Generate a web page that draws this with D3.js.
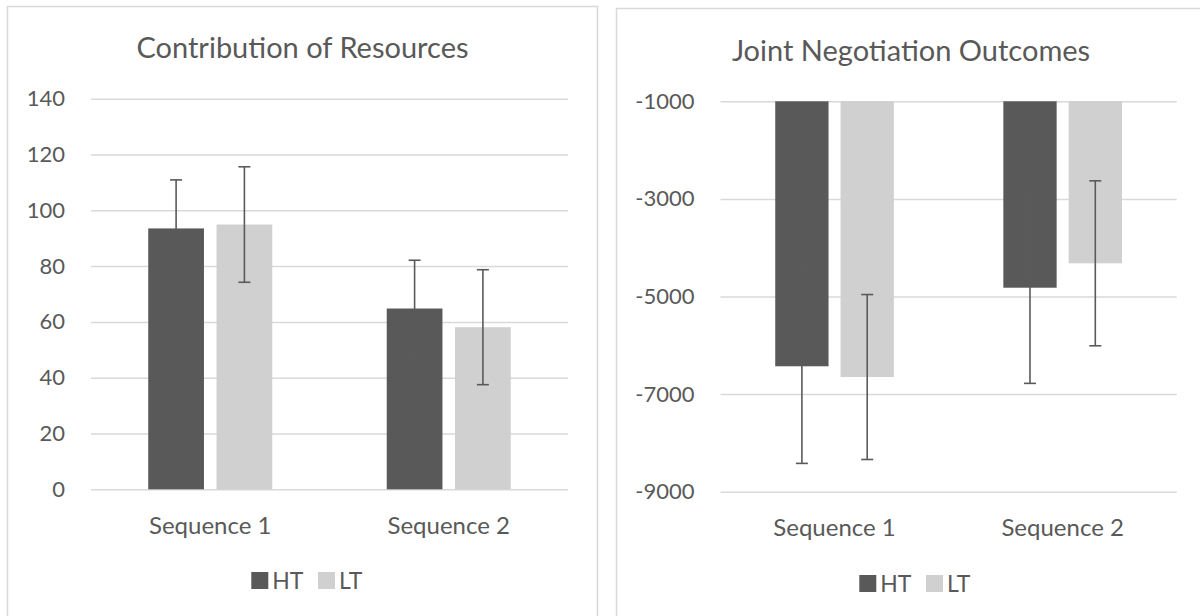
<!DOCTYPE html>
<html>
<head>
<meta charset="utf-8">
<script src="https://cdn.jsdelivr.net/npm/d3@7"></script>
<style>
  html, body { margin: 0; padding: 0; background: #ffffff; }
  svg { display: block; }
  text { font-family: Lato, "Open Sans", sans-serif; fill: #595959; }
</style>
</head>
<body>
<svg id="chart" width="1200" height="616"></svg>
<script>
// Shared categories and series
const categories = ["Sequence 1", "Sequence 2"];
const series = ["HT", "LT"];
const seriesColors = ["#595959", "#d0d0d0"];

// Contribution of Resources: means and error half-widths
const resourcesHT = [93.5, 64.8];
const resourcesLT = [94.9, 58.1];
const resourcesErrHT = [17.4, 17.3];
const resourcesErrLT = [20.7, 20.6];
const resourcesTicks = [0, 20, 40, 60, 80, 100, 120, 140];

// Joint Negotiation Outcomes: means and error half-widths
const outcomesHT = [-6430, -4820];
const outcomesLT = [-6650, -4320];
const outcomesErrHT = [1990, 1960];
const outcomesErrLT = [1690, 1690];
const outcomesTicks = [-1000, -3000, -5000, -7000, -9000];

const svg = d3.select("#chart");

function drawPanel(opts) {
  const g = svg.append("g");

  // panel frame
  g.append("rect")
    .attr("x", opts.frame.x).attr("y", opts.frame.y)
    .attr("width", opts.frame.w).attr("height", opts.frame.h)
    .attr("fill", "#ffffff")
    .attr("stroke", "#d9d9d9").attr("stroke-width", 1.5);

  const x = d3.scaleBand().domain(categories)
    .range([opts.plot.left, opts.plot.right]);
  const xs = d3.scaleBand().domain(series)
    .range([0, x.bandwidth()])
    .paddingInner(0.184).paddingOuter(0.838);
  const y = d3.scaleLinear().domain(opts.domain)
    .range([opts.plot.bottom, opts.plot.top]);

  // gridlines + tick labels via a left axis (plain hyphen for negatives)
  const axis = d3.axisLeft(y).tickValues(opts.ticks)
    .tickSize(-(opts.plot.right - opts.plot.left))
    .tickPadding(26)
    .tickFormat(d => String(d));
  const ag = g.append("g")
    .attr("transform", `translate(${opts.plot.left},0)`)
    .call(axis);
  ag.select(".domain").remove();
  ag.selectAll(".tick line").attr("stroke", "#d9d9d9").attr("stroke-width", 1.5);
  ag.selectAll(".tick text")
    .attr("fill", "#595959")
    .style("font-family", "Lato, sans-serif")
    .style("font-size", "22px");

  // bars
  const rows = [];
  categories.forEach((c, i) => {
    series.forEach((s, j) => {
      rows.push({ cat: c, ser: s, color: seriesColors[j],
        v: opts.values[j][i], e: opts.errors[j][i] });
    });
  });

  const base = opts.base;
  g.append("g").selectAll("rect").data(rows).join("rect")
    .attr("x", d => x(d.cat) + xs(d.ser))
    .attr("width", xs.bandwidth())
    .attr("y", d => Math.min(y(d.v), y(base)))
    .attr("height", d => Math.abs(y(d.v) - y(base)))
    .attr("fill", d => d.color);

  // error bars
  const eg = g.append("g").attr("stroke", "#5a5a5a").attr("stroke-width", 1.6).attr("fill", "none");
  rows.forEach(d => {
    const cx = x(d.cat) + xs(d.ser) + xs.bandwidth() / 2;
    const y1 = y(d.v + d.e), y2 = y(d.v - d.e);
    eg.append("line").attr("x1", cx).attr("x2", cx).attr("y1", y1).attr("y2", y2);
    eg.append("line").attr("x1", cx - 6).attr("x2", cx + 6).attr("y1", y1).attr("y2", y1);
    eg.append("line").attr("x1", cx - 6).attr("x2", cx + 6).attr("y1", y2).attr("y2", y2);
  });

  // category labels
  g.append("g").selectAll("text").data(categories).join("text")
    .attr("x", d => x(d) + x.bandwidth() / 2)
    .attr("y", opts.plot.bottom + 44.5)
    .attr("text-anchor", "middle")
    .style("font-size", "24px")
    .text(d => d);

  // title
  g.append("text")
    .attr("x", opts.titleX).attr("y", opts.titleY)
    .attr("text-anchor", "middle")
    .style("font-size", "29px")
    .text(opts.title);

  // legend
  const itemStep = 66.7, sw = 17;
  const lg = g.append("g")
    .attr("transform", `translate(${opts.legendX},${opts.legendY})`);
  const items = lg.selectAll("g").data(series).join("g")
    .attr("transform", (d, i) => `translate(${i * itemStep},0)`);
  items.append("rect")
    .attr("width", sw).attr("height", sw)
    .attr("fill", (d, i) => seriesColors[i]);
  items.append("text")
    .attr("x", sw + 4).attr("y", sw / 2).attr("dy", "0.36em")
    .style("font-size", "23px")
    .text(d => d);
}

drawPanel({
  frame: { x: 7.5, y: 6.5, w: 590, h: 700 },
  plot: { left: 91, right: 568, top: 98.7, bottom: 489.3 },
  domain: [0, 140], base: 0,
  ticks: resourcesTicks,
  values: [resourcesHT, resourcesLT],
  errors: [resourcesErrHT, resourcesErrLT],
  title: "Contribution of Resources", titleX: 302.5, titleY: 58,
  legendX: 251.3, legendY: 572
});

drawPanel({
  frame: { x: 616.5, y: 8.5, w: 600, h: 700 },
  plot: { left: 720.5, right: 1176.7, top: 101.3, bottom: 491.7 },
  domain: [-9000, -1000], base: -1000,
  ticks: outcomesTicks,
  values: [outcomesHT, outcomesLT],
  errors: [outcomesErrHT, outcomesErrLT],
  title: "Joint Negotiation Outcomes", titleX: 911, titleY: 61,
  legendX: 859.3, legendY: 575
});
</script>
</body>
</html>
